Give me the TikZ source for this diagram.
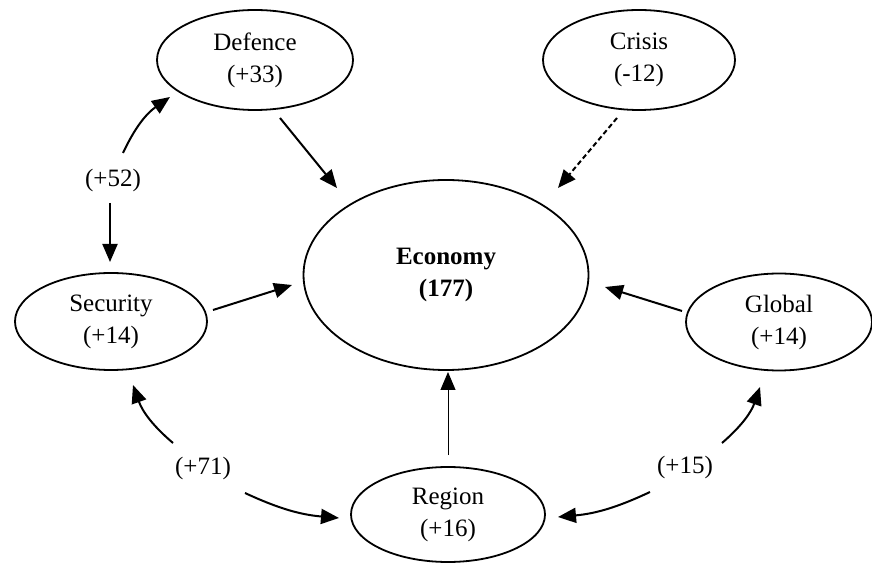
\documentclass[tikz,border=0pt]{standalone}
\usepackage{fontspec}
\setmainfont{Liberation Serif}
\usetikzlibrary{shapes.geometric,arrows.meta}
\begin{document}
\begin{tikzpicture}[x=1pt,y=1pt,
  bubble/.style={ellipse,draw,line width=1.8pt,inner sep=0pt,align=center,
    font=\fontsize{25}{32}\selectfont},
  tag/.style={inner sep=0pt,font=\fontsize{25}{32}\selectfont},
  link/.style={line width=2pt,-{Triangle[length=18pt,width=15pt]}},
  thinlink/.style={line width=1pt,-{Triangle[length=18pt,width=15pt]}},
  weaklink/.style={link,dash pattern=on 5pt off 3pt},
]
\fill[white] (0,0) rectangle (872,565);
\useasboundingbox (0,0) rectangle (872,565);

% factor nodes
\node[bubble,minimum width=196pt,minimum height=100pt] (def) at (255,505) {Defence\\(+33)};
\node[bubble,minimum width=192pt,minimum height=100pt] (cri) at (639,505) {Crisis\\(-12)};
\node[bubble,minimum width=285pt,minimum height=190pt,
      font=\fontsize{25}{32}\selectfont\bfseries] (eco) at (446,290) {Economy\\(177)};
\node[bubble,minimum width=192pt,minimum height=97pt] (sec) at (111,243.5) {Security\\(+14)};
\node[bubble,minimum width=186pt,minimum height=97pt] (glo) at (779,243) {Global\\(+14)};
\node[bubble,minimum width=194pt,minimum height=95pt] (reg) at (448,50.5) {Region\\(+16)};

% link weights
\node[tag] (w52) at (113,385) {(+52)};
\node[tag] (w71) at (203,97) {(+71)};
\node[tag] (w15) at (685,98) {(+15)};

% arrow end points
\coordinate (a1s) at (280,447); \coordinate (a1e) at (337,377);
\coordinate (a2s) at (617,447); \coordinate (a2e) at (558,377);
\coordinate (a3s) at (213,255); \coordinate (a3e) at (292,280);
\coordinate (a4s) at (682,254); \coordinate (a4e) at (605,278);
\coordinate (a5s) at (448,110); \coordinate (a5e) at (448,193);
\coordinate (b1s) at (123,412); \coordinate (b1e) at (170,468);
\coordinate (b2s) at (110,362); \coordinate (b2e) at (110,303);
\coordinate (c1s) at (173,122); \coordinate (c1e) at (133,180);
\coordinate (c2s) at (245,72);  \coordinate (c2e) at (339,47);
\coordinate (d1s) at (722,122); \coordinate (d1e) at (760,178);
\coordinate (d2s) at (650,73);  \coordinate (d2e) at (558,48);

% influences on the economy
\draw[link] (a1s) -- (a1e);
\draw[weaklink] (a2s) -- (a2e);
\draw[link] (a3s) -- (a3e);
\draw[link] (a4s) -- (a4e);
\draw[thinlink] (a5s) -- (a5e);

% mutual links between factors
\draw[link] (b1s) to[bend left=15] (b1e);
\draw[link] (b2s) -- (b2e);
\draw[link] (c1s) to[bend left=15] (c1e);
\draw[link] (c2s) to[bend right=10] (c2e);
\draw[link] (d1s) to[bend right=15] (d1e);
\draw[link] (d2s) to[bend left=10] (d2e);
\end{tikzpicture}
\end{document}
